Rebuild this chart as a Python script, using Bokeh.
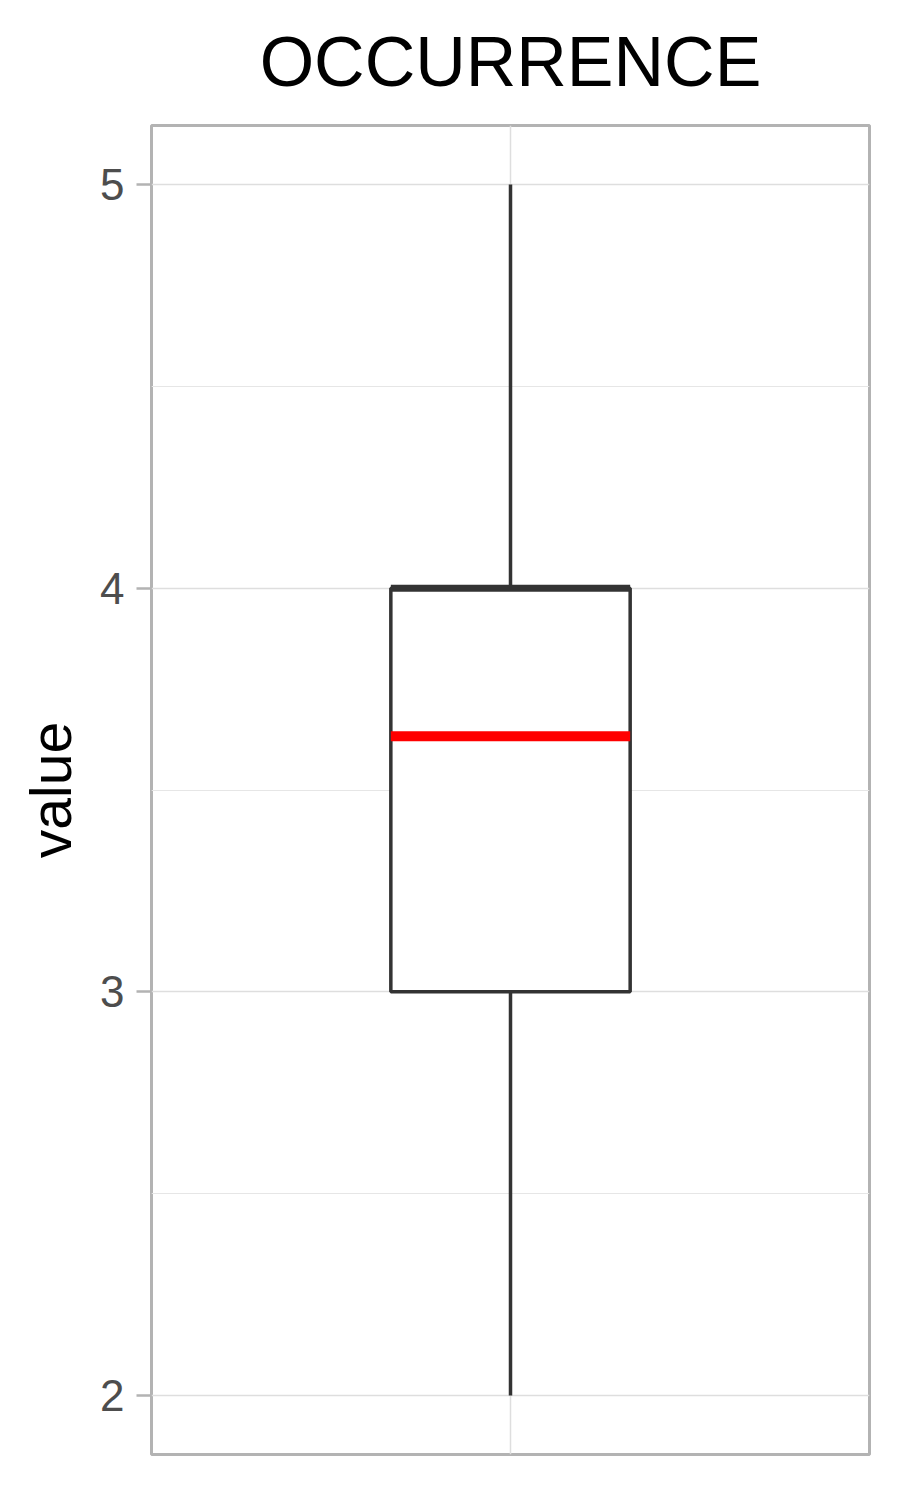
from bokeh.plotting import figure
from bokeh.models import FixedTicker, Range1d, ColumnDataSource
from bokeh.embed import file_html
from bokeh.resources import INLINE

# Data
categories = ["OCCURRENCE"]
lower = [2.0]
q1 = [3.0]
median = [4.0]
q3 = [4.0]
upper = [5.0]
mean = [3.633]
y_ticks = [2, 3, 4, 5]
y_minor = [2.5, 3.5, 4.5]

xpos = [1.0]
half = 0.2
src = ColumnDataSource(dict(
    x=xpos, left=[x - half for x in xpos], right=[x + half for x in xpos],
    lower=lower, q1=q1, median=median, q3=q3, upper=upper, mean=mean,
))

FONT = "Liberation Sans"

p = figure(frame_width=718, frame_height=1329,
           x_range=Range1d(0.4, 1.6), y_range=Range1d(1.854, 5.146),
           output_backend="svg", toolbar_location=None,
           min_border_left=151, min_border_right=31,
           min_border_top=125, min_border_bottom=46,
           title=categories[0])

p.background_fill_color = "white"
p.border_fill_color = "white"
p.outline_line_color = "#b3b3b3"
p.outline_line_width = 3

p.title.align = "center"
p.title.vertical_align = "top"
p.title.text_font = FONT
p.title.text_font_size = "70px"
p.title.text_font_style = "normal"
p.title.text_color = "black"
p.title.text_line_height = 0.8
p.title.standoff = 45

# grids
p.xgrid.ticker = FixedTicker(ticks=[1.0])
p.xgrid.grid_line_color = "#dedede"
p.xgrid.grid_line_width = 1.5
p.ygrid.ticker = FixedTicker(ticks=y_ticks, minor_ticks=y_minor)
p.ygrid.grid_line_color = "#dedede"
p.ygrid.grid_line_width = 1.5
p.ygrid.minor_grid_line_color = "#e6e6e6"
p.ygrid.minor_grid_line_width = 1

# axes
p.xaxis.visible = False
yax = p.yaxis[0]
yax.ticker = FixedTicker(ticks=y_ticks, minor_ticks=[])
yax.axis_line_color = None
yax.major_tick_line_color = "#b3b3b3"
yax.major_tick_line_width = 2.5
yax.major_tick_out = 15
yax.major_tick_in = 0
yax.minor_tick_line_color = None
yax.major_label_text_font = FONT
yax.major_label_text_font_size = "44px"
yax.major_label_text_color = "#4d4d4d"
yax.major_label_standoff = 12
yax.axis_label = "value"
yax.axis_label_text_font = FONT
yax.axis_label_text_font_size = "57px"
yax.axis_label_text_font_style = "normal"
yax.axis_label_text_color = "black"
yax.axis_label_standoff = 14

BOX = "#333333"
# whiskers
p.segment(x0="x", y0="q3", x1="x", y1="upper", source=src, line_color=BOX, line_width=3.5)
p.segment(x0="x", y0="lower", x1="x", y1="q1", source=src, line_color=BOX, line_width=3.5)
# box
p.quad(left="left", right="right", bottom="q1", top="q3", source=src,
       fill_color="white", line_color=BOX, line_width=3.5)
# median
p.segment(x0="left", y0="median", x1="right", y1="median", source=src,
          line_color=BOX, line_width=7)
# mean
p.segment(x0="left", y0="mean", x1="right", y1="mean", source=src,
          line_color="red", line_width=10)

open("out.html", "w").write(file_html(p, INLINE))
